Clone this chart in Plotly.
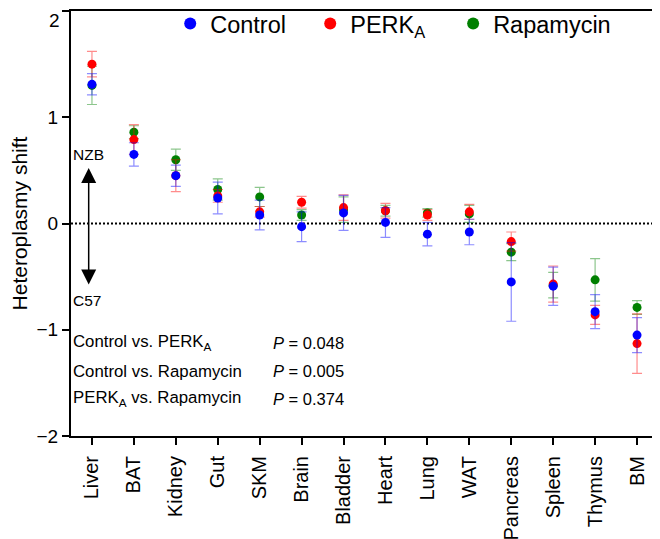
import plotly.graph_objects as go

categories = ["Liver", "BAT", "Kidney", "Gut", "SKM", "Brain", "Bladder", "Heart",
              "Lung", "WAT", "Pancreas", "Spleen", "Thymus", "BM"]

control_mean = [1.31, 0.65, 0.45, 0.24, 0.08, -0.03, 0.10, 0.01, -0.10, -0.08, -0.55, -0.59, -0.83, -1.05]
control_err = [0.10, 0.11, 0.10, 0.15, 0.14, 0.14, 0.165, 0.14, 0.11, 0.12, 0.37, 0.18, 0.16, 0.165]

perk_mean = [1.50, 0.79, 0.45, 0.26, 0.11, 0.20, 0.15, 0.12, 0.08, 0.11, -0.17, -0.57, -0.86, -1.13]
perk_err = [0.12, 0.14, 0.15, 0.06, 0.05, 0.055, 0.12, 0.07, 0.05, 0.07, 0.09, 0.17, 0.09, 0.28]

rapa_mean = [1.30, 0.86, 0.60, 0.32, 0.25, 0.08, 0.13, 0.12, 0.10, 0.09, -0.27, -0.58, -0.53, -0.79]
rapa_err = [0.18, 0.06, 0.10, 0.10, 0.09, 0.05, 0.12, 0.05, 0.04, 0.08, 0.08, 0.12, 0.20, 0.065]

y_ticks = [-2, -1, 0, 1, 2]
y_tick_labels = ["\u22122", "\u22121", "0", "1", ""]
y_top_label = "2"

stats_labels = ["Control vs. PERK<sub>A</sub>", "Control vs. Rapamycin", "PERK<sub>A</sub> vs. Rapamycin"]
stats_p = ["<i>P</i> = 0.048", "<i>P</i> = 0.005", "<i>P</i> = 0.374"]
stats_y = [-1.12, -1.39, -1.65]

FONT = "Liberation Sans, Arial, sans-serif"

series = [
    ("Rapamycin", rapa_mean, rapa_err, "#008000", "rgba(0,128,0,0.45)", "legend2"),
    ("PERK<sub>A</sub>", perk_mean, perk_err, "#ff0000", "rgba(255,0,0,0.45)", "legend"),
    ("Control", control_mean, control_err, "#0000ff", "rgba(0,0,255,0.45)", "legend"),
]

fig = go.Figure()
for name, m, e, col, ecol, leg in series:
    fig.add_trace(go.Scatter(
        x=categories, y=m, mode="markers", name=name, legend=leg,
        marker=dict(color=col, size=9, line=dict(width=0)),
        error_y=dict(type="data", array=e, visible=True, color=ecol, thickness=1.2, width=5),
    ))

annotations = [
    dict(x=0, xref="paper", y=2, yref="y", text=y_top_label, showarrow=False,
         xanchor="right", yanchor="top", xshift=-9, yshift=3,
         font=dict(size=19, color="black", family=FONT)),
    dict(x=0, xref="paper", y=0.645, yref="y", text="NZB", showarrow=False,
         xanchor="left", yanchor="middle", font=dict(size=15.5, color="black", family=FONT)),
    dict(x=0, xref="paper", y=-0.72, yref="y", text="C57", showarrow=False,
         xanchor="left", yanchor="middle", font=dict(size=15.5, color="black", family=FONT)),
    dict(x=-0.078, xref="x", y=0.523, yref="y", ax=-0.078, axref="x", ay=-0.589, ayref="y",
         text="", showarrow=True, arrowhead=2, arrowside="end+start", arrowsize=2,
         arrowwidth=1.5, arrowcolor="black", standoff=0, startstandoff=0),
]
for lab, p, yy in zip(stats_labels, stats_p, stats_y):
    annotations.append(dict(x=0, xref="paper", y=yy, yref="y", text=lab, showarrow=False,
                            xanchor="left", yanchor="middle",
                            font=dict(size=16.8, color="black", family=FONT)))
    annotations.append(dict(x=0.3405, xref="paper", y=yy, yref="y", text=p, showarrow=False,
                            xanchor="left", yanchor="middle",
                            font=dict(size=16.5, color="black", family=FONT)))

legend_common = dict(orientation="h", y=1.022, xanchor="left", yanchor="top",
                     font=dict(size=23.5, family=FONT, color="black"),
                     bgcolor="rgba(0,0,0,0)", itemsizing="constant")

fig.update_layout(
    template="simple_white",
    width=660, height=539,
    margin=dict(l=63, r=10, t=3, b=111, autoexpand=False),
    plot_bgcolor="white", paper_bgcolor="white",
    font=dict(family=FONT, color="black"),
    showlegend=True,
    legend=dict(legend_common, x=0.169, traceorder="reversed", entrywidth=95, entrywidthmode="pixels"),
    legend2=dict(legend_common, x=0.651),
    annotations=annotations,
    shapes=[dict(type="line", xref="paper", x0=0, x1=1, yref="y", y0=0, y1=0, opacity=1,
                 line=dict(color="black", width=2.2, dash="2px,2px"), layer="below")],
    xaxis=dict(
        range=[-0.5, 13.5], tickangle=-90, tickfont=dict(size=20, family=FONT, color="black"),
        ticks="outside", ticklen=7, tickwidth=2, tickcolor="black", ticklabelstandoff=3,
        showline=True, linewidth=2, linecolor="black", mirror=True, showgrid=False, zeroline=False,
        automargin=False,
    ),
    yaxis=dict(
        range=[-2, 2], tickmode="array", tickvals=y_ticks, ticktext=y_tick_labels,
        tickfont=dict(size=19, family=FONT, color="black"),
        ticks="outside", ticklen=7, tickwidth=2, tickcolor="black",
        showline=True, linewidth=2, linecolor="black", mirror=True, showgrid=False, zeroline=False,
        automargin=False,
        title=dict(text="Heteroplasmy shift", font=dict(size=21, family=FONT, color="black"), standoff=17),
    ),
)

fig.write_html("out.html")
